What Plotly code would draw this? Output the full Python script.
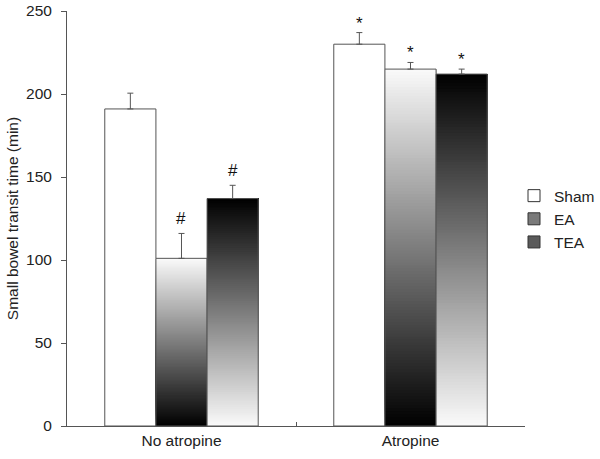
import plotly.graph_objects as go

categories = ["No atropine", "Atropine"]
series_names = ["Sham", "EA", "TEA"]
sham = [191, 230]
ea = [101, 215]
tea = [137, 212]
sham_err = [9.5, 7]
ea_err = [15, 4]
tea_err = [8, 3]
marks = {"Sham": ["", "*"], "EA": ["#", "*"], "TEA": ["#", "*"]}

values = {"Sham": sham, "EA": ea, "TEA": tea}
errors = {"Sham": sham_err, "EA": ea_err, "TEA": tea_err}

# style
BW = 0.2233
offsets = {"Sham": -0.335, "EA": -0.1117, "TEA": 0.1117}
gradient = {"Sham": None, "EA": "up", "TEA": "down"}  # up: light at top
legend_colors = {"Sham": "white", "EA": "#7a7a7a", "TEA": "#5a5a5a"}
N = 120
FONT = "Liberation Sans, Arial, sans-serif"
FS = 15.5
EDGE = "#555555"

fig = go.Figure()

for name in series_names:
    vals = values[name]
    if gradient[name]:
        xs, bases, hs, cols = [], [], [], []
        for ci, cat in enumerate(categories):
            v = vals[ci]
            for i in range(N):
                f = (i + 0.5) / N
                g = f if gradient[name] == "up" else 1 - f
                lv = int(round(250 * g))
                xs.append(cat)
                bases.append(v * i / N)
                hs.append(v * (1 - i / N))
                cols.append(f"rgb({lv},{lv},{lv})")
        fig.add_trace(go.Bar(
            x=xs, y=hs, base=bases, offset=offsets[name], width=BW,
            marker=dict(color=cols, line=dict(width=0)),
            showlegend=False, hoverinfo="skip"))
    # outline + error bars
    fig.add_trace(go.Bar(
        x=categories, y=vals, offset=offsets[name], width=BW,
        name=name,
        marker=dict(color="white" if name == "Sham" else "rgba(0,0,0,0)",
                    line=dict(color=EDGE, width=1)),
        error_y=dict(type="data", array=errors[name], arrayminus=[0, 0],
                     symmetric=False, color=EDGE, thickness=1, width=3),
        showlegend=False))
    # legend entry
    fig.add_trace(go.Bar(
        x=[categories[0]], y=[None], name=name,
        marker=dict(color=legend_colors[name], line=dict(color="#333333", width=1)),
        showlegend=True))

annotations = []
for name in series_names:
    for ci, cat in enumerate(categories):
        m = marks[name][ci]
        if m:
            annotations.append(dict(
                x=ci + offsets[name] + BW / 2, y=values[name][ci] + errors[name][ci],
                xref="x", yref="y", text=m, showarrow=False,
                yanchor="bottom", yshift=3 if m == "#" else -2,
                font=dict(family=FONT, size=17, color="#111111")))

fig.update_layout(
    width=600, height=459,
    margin=dict(l=67, r=75, t=11, b=33, autoexpand=False),
    barmode="overlay",
    plot_bgcolor="white", paper_bgcolor="white",
    font=dict(family=FONT, size=FS, color="#222222"),
    annotations=annotations,
    legend=dict(x=0.976, y=0.595, xanchor="left", yanchor="top",
                font=dict(family=FONT, size=FS, color="#222222"),
                tracegroupgap=0, itemwidth=30, bgcolor="rgba(0,0,0,0)"),
    xaxis=dict(type="category", categoryorder="array", categoryarray=categories,
               range=[-0.5, 1.5], showline=True, linecolor=EDGE, linewidth=1,
               ticks="inside", tickson="boundaries", ticklen=4, tickcolor=EDGE,
               showgrid=False, zeroline=False, fixedrange=True, automargin=False,
               tickfont=dict(size=FS)),
    yaxis=dict(range=[0, 250], tickvals=[0, 50, 100, 150, 200, 250],
               showline=True, linecolor=EDGE, linewidth=1,
               ticks="outside", ticklen=5, tickcolor=EDGE, ticklabelstandoff=6,
               showgrid=False, zeroline=False, automargin=False,
               title=dict(text="Small bowel transit time (min)", standoff=3.5,
                          font=dict(size=FS)),
               tickfont=dict(size=FS)),
)

fig.write_html("out.html",
               config=dict(displayModeBar=False),
               post_script="document.body.style.margin='0';"
                           "document.body.style.overflow='hidden';")
